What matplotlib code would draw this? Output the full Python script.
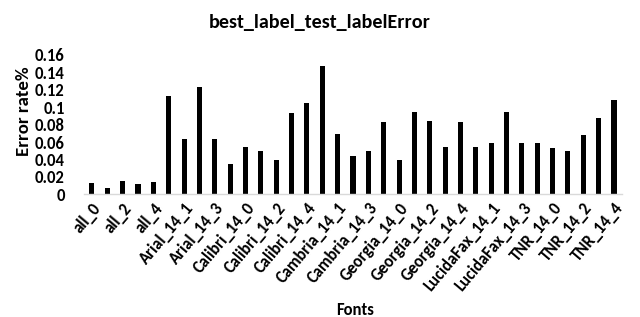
import matplotlib
matplotlib.use("Agg")
import matplotlib.pyplot as plt

groups = ["all", "Arial_14", "Calibri_14", "Cambria_14", "Georgia_14", "LucidaFax_14", "TNR_14"]
categories = [f"{g}_{i}" for g in groups for i in range(5)]

values = [
    0.013, 0.007, 0.0157, 0.0116, 0.0142,      # all
    0.113, 0.0636, 0.1237, 0.0636, 0.0347,     # Arial
    0.0539, 0.0493, 0.0393, 0.0936, 0.105,     # Calibri
    0.1475, 0.069, 0.0443, 0.0497, 0.0836,     # Cambria
    0.0393, 0.094, 0.0847, 0.0547, 0.0836,     # Georgia
    0.0543, 0.059, 0.094, 0.059, 0.0586,       # LucidaFax
    0.0535, 0.0497, 0.0686, 0.0879, 0.108,     # TNR
]
yticks = [0, 0.02, 0.04, 0.06, 0.08, 0.1, 0.12, 0.14, 0.16]
ytick_labels = ["0", "0.02", "0.04", "0.06", "0.08", "0.1", "0.12", "0.14", "0.16"]

plt.rcParams['font.family'] = ['Carlito', 'Lato', 'DejaVu Sans']

fig = plt.figure(figsize=(6.4, 3.17), dpi=100)
ax = fig.add_axes([0.1317, 0.387, 0.8397, 0.4395])

x = list(range(len(categories)))
ax.bar(x, values, width=0.33, color="black")
ax.set_xlim(-0.5, len(categories) - 0.5)
ax.set_ylim(0, 0.16)
ax.set_yticks(yticks)
ax.set_yticklabels(ytick_labels, fontsize=12, fontweight="bold")
ax.set_xticks(x[::2])
ax.set_xticklabels(categories[::2], rotation=50, ha="right", rotation_mode="anchor",
                   fontsize=12, fontweight="bold")
ax.tick_params(axis="both", length=0)
ax.tick_params(axis="y", pad=14)
ax.tick_params(axis="x", pad=4)

for s in ["top", "right", "left"]:
    ax.spines[s].set_visible(False)
ax.spines["bottom"].set_color("#d9d9d9")
ax.spines["bottom"].set_linewidth(1)

ax.set_ylabel("Error rate%", fontsize=13.5, fontweight="bold")
ax.yaxis.set_label_coords(-0.098, 0.6)
fig.text(0.555, 0.022, "Fonts", ha="center", va="center", fontsize=12, fontweight="bold")
fig.text(0.5, 0.93, "best_label_test_labelError", ha="center", va="center",
         fontsize=14.5, fontweight="bold")

fig.savefig("out.png", dpi=100)
